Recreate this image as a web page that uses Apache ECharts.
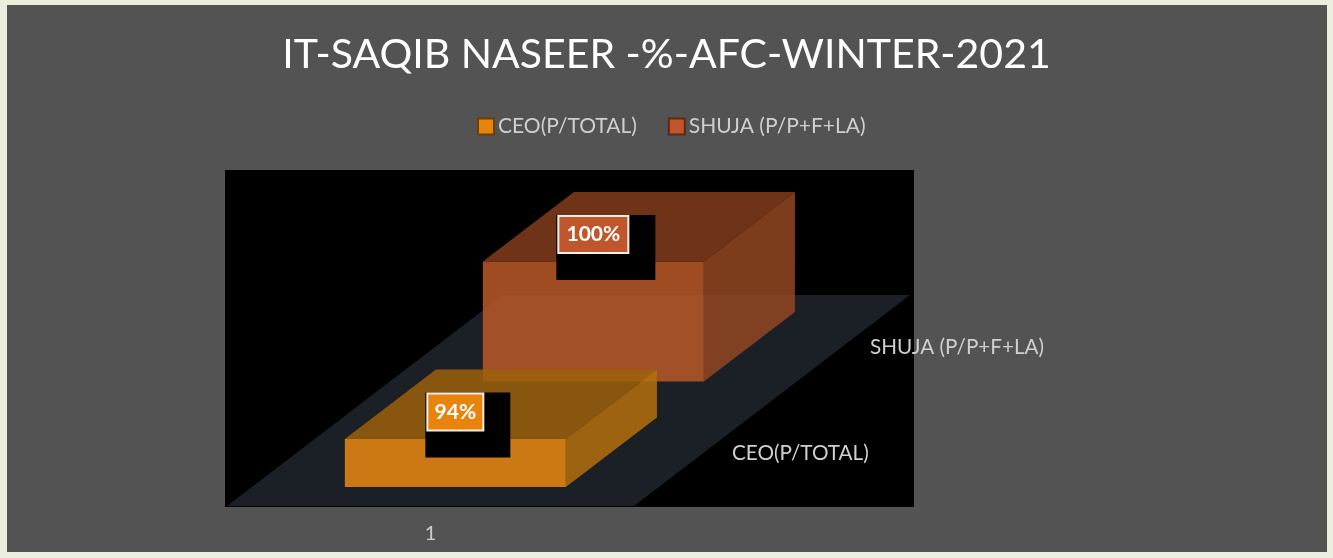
<!DOCTYPE html>
<html>
<head>
<meta charset="utf-8">
<style>html,body{margin:0;padding:0;background:#eceedd}#chart{width:1333px;height:558px}</style>
<script src="https://cdn.jsdelivr.net/npm/echarts@6/dist/echarts.min.js"></script>
</head>
<body>
<div id="chart"></div>
<script>
var titleText = 'IT-SAQIB NASEER -%-AFC-WINTER-2021';
var categories = ['1'];
var seriesNames = ['CEO(P/TOTAL)', 'SHUJA (P/P+F+LA)'];
var ceoValues = [94];
var shujaValues = [100];

var FONT = 'Lato, "Open Sans", sans-serif';
var TEXT = '#cfcfcf';
var DEPTH = [276, -211];          // oblique projection of the whole depth axis
var ROW_START = [0.09, 0.59];     // front of each series row along the depth axis
var BOX_DEPTH = 0.33;
var BAR_RATIO = 221 / 407;

var faces = [
  {front: 'rgba(235,138,18,0.85)', top: 'rgba(156,96,11,0.85)', side: 'rgba(181,112,13,0.85)', label: '#e8830c'},
  {front: 'rgba(187,89,40,0.85)',  top: 'rgba(130,61,28,0.85)', side: 'rgba(147,70,33,0.85)',  label: '#c0562b'}
];

function makeBox(row) {
  return function (params, api) {
    var cat = api.value(0);
    var val = api.value(1);
    var bandW = api.size([1, 0])[0];
    var base = api.coord([cat, 90]);
    var topPt = api.coord([cat, val]);
    var ox = DEPTH[0] * ROW_START[row], oy = DEPTH[1] * ROW_START[row];
    var w = bandW * BAR_RATIO;
    var dx = DEPTH[0] * BOX_DEPTH, dy = DEPTH[1] * BOX_DEPTH;
    var x0 = base[0] + ox - w / 2, x1 = x0 + w;
    var yb = base[1] + oy, yt = topPt[1] + oy;
    var f = faces[row];
    var txt = Math.round(val) + '%';
    var lw = 14 * txt.length + 14, lh = 37;
    var lx = x0 + w / 2 - lw / 2, ly = yt - 27 - lh / 2;
    var floorRight = base[0] + bandW / 2;
    var rowMid = (row + 0.5) / seriesNames.length;
    return {
      type: 'group',
      children: [
        {type: 'polygon', shape: {points: [[x0, yb], [x1, yb], [x1, yt], [x0, yt]]}, style: {fill: f.front}},
        {type: 'polygon', shape: {points: [[x0, yt], [x1, yt], [x1 + dx, yt + dy], [x0 + dx, yt + dy]]}, style: {fill: f.top}},
        {type: 'polygon', shape: {points: [[x1, yb], [x1 + dx, yb + dy], [x1 + dx, yt + dy], [x1, yt]]}, style: {fill: f.side}},
        {type: 'rect', shape: {x: lx - 2, y: ly - 1, width: lw + 29, height: lh + 28}, style: {fill: '#000'}},
        {type: 'rect', shape: {x: lx, y: ly, width: lw, height: lh}, style: {fill: f.label, stroke: '#f3efe6', lineWidth: 2}},
        {type: 'text', x: lx + lw / 2, y: ly + lh / 2,
          style: {text: txt, fill: '#fff', font: 'bold 21px ' + FONT, textAlign: 'center', textVerticalAlign: 'middle'}},
        {type: 'text', x: floorRight + DEPTH[0] * rowMid + 29, y: base[1] + DEPTH[1] * rowMid,
          style: {text: seriesNames[row], fill: TEXT, font: '20.7px ' + FONT, textAlign: 'left', textVerticalAlign: 'middle'}}
      ]
    };
  };
}

function renderFloor(params, api) {
  var p = api.coord([api.value(0), 90]);
  var h = api.size([1, 0])[0] / 2;
  return {
    type: 'polygon',
    shape: {points: [
      [p[0] - h, p[1]], [p[0] + h, p[1]],
      [p[0] + h + DEPTH[0], p[1] + DEPTH[1]], [p[0] - h + DEPTH[0], p[1] + DEPTH[1]]
    ]},
    style: {fill: '#1a2026'}
  };
}

var chart = echarts.init(document.getElementById('chart'), null, {renderer: 'canvas'});
chart.setOption({
  animation: false,
  backgroundColor: '#eceedd',
  textStyle: {fontFamily: FONT},
  graphic: [
    {type: 'rect', z: -10, shape: {x: 7, y: 5, width: 1320, height: 547}, style: {fill: '#535353'}},
    {type: 'rect', z: -9, shape: {x: 225, y: 170, width: 689, height: 337}, style: {fill: '#000'}}
  ],
  title: {
    text: titleText, left: 'center', top: 29,
    textStyle: {color: '#fff', fontSize: 41, fontWeight: 'normal', fontFamily: FONT}
  },
  legend: {
    data: seriesNames, left: 477, top: 116, padding: 0,
    icon: 'rect', itemWidth: 16, itemHeight: 16, itemGap: 31,
    textStyle: {color: TEXT, fontSize: 21, fontFamily: FONT, padding: [0, 0, 0, -1]}
  },
  grid: {left: 227, top: 170, width: 407, height: 336},
  xAxis: {
    type: 'category', data: categories,
    axisLine: {show: false}, axisTick: {show: false}, splitLine: {show: false},
    axisLabel: {color: TEXT, fontSize: 20, margin: 18}
  },
  yAxis: {type: 'value', min: 90, max: 118, show: false},
  series: [
    {type: 'custom', name: 'floor', z: 1, silent: true, renderItem: renderFloor, data: [[0, 90]], encode: {x: 0, y: 1}},
    {type: 'custom', name: seriesNames[1], z: 2, renderItem: makeBox(1),
      itemStyle: {color: faces[1].label, borderColor: '#5a2a12', borderWidth: 2},
      data: shujaValues.map(function (v, i) { return [i, v]; }), encode: {x: 0, y: 1}},
    {type: 'custom', name: seriesNames[0], z: 3, renderItem: makeBox(0),
      itemStyle: {color: faces[0].label, borderColor: '#6a3f08', borderWidth: 2},
      data: ceoValues.map(function (v, i) { return [i, v]; }), encode: {x: 0, y: 1}}
  ]
});
</script>
</body>
</html>
